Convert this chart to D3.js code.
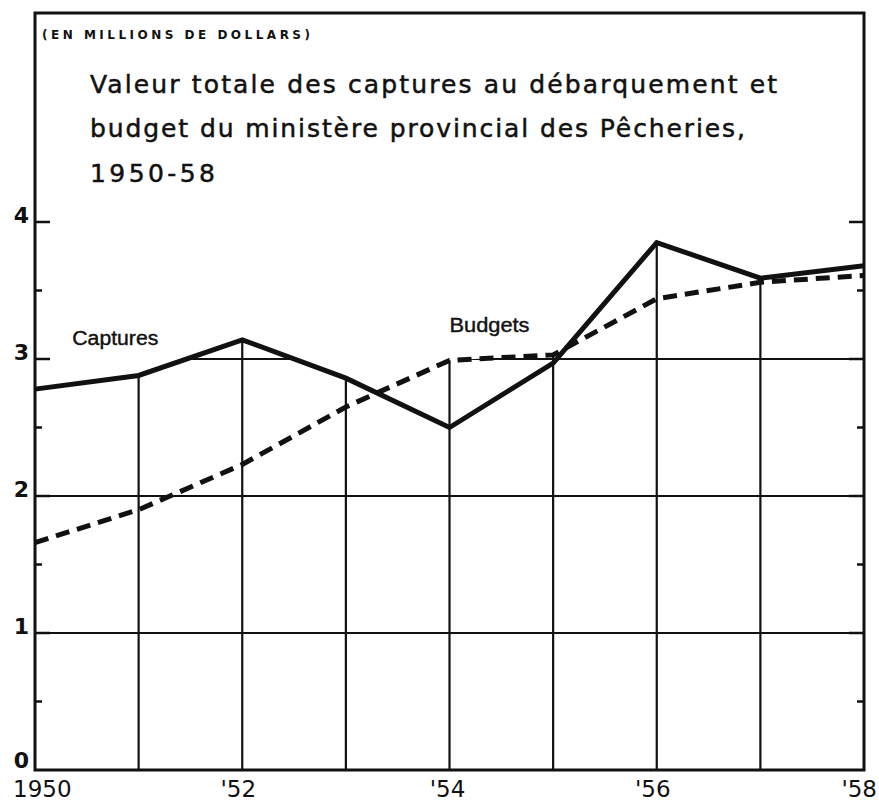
<!DOCTYPE html>
<html>
<head>
<meta charset="utf-8">
<script src="https://cdn.jsdelivr.net/npm/d3@7"></script>
<style>
  html, body { margin: 0; padding: 0; background: #fff; }
  svg { display: block; }
</style>
</head>
<body>
<svg id="chart" width="879" height="801"></svg>
<script>
// ---- data ----
const years = [1950, 1951, 1952, 1953, 1954, 1955, 1956, 1957, 1958];
const captures = [2.78, 2.88, 3.14, 2.86, 2.50, 2.97, 3.85, 3.59, 3.68];
const budgets  = [1.66, 1.90, 2.23, 2.65, 2.99, 3.03, 3.44, 3.56, 3.61];
const yTicks = [0, 1, 2, 3, 4];
const yTickLabels = ["0", "1", "2", "3", "4"];
const yMinorTicks = [0.5, 1.5, 2.5, 3.5];
const xTickYears = [1950, 1952, 1954, 1956, 1958];
const xTickLabels = ["1950", "'52", "'54", "'56", "'58"];
const titleLines = [
  "Valeur totale des captures au débarquement et",
  "budget du ministère provincial des Pêcheries,",
  "1950-58"
];
const unitLabel = "(EN MILLIONS DE DOLLARS)";
const seriesLabels = ["Captures", "Budgets"];

// ---- layout ----
const svg = d3.select("#chart");
const ink = "#111";
const x = d3.scaleLinear().domain([1950, 1958]).range([35, 864]);
const y = d3.scaleLinear().domain([0, 4]).range([770, 222]);
const frameTop = 13;

const capData = years.map((yr, i) => ({ yr, v: captures[i] }));
const budData = years.map((yr, i) => ({ yr, v: budgets[i] }));

// clip: union of the areas under the two curves
const area = d3.area().x(d => x(d.yr)).y0(y(0)).y1(d => y(d.v));
const clip = svg.append("defs").append("clipPath").attr("id", "under");
clip.append("path").attr("d", area(capData));
clip.append("path").attr("d", area(budData));

// grid lines (clipped below the curves)
const grid = svg.append("g").attr("clip-path", "url(#under)")
  .attr("stroke", ink).attr("stroke-width", 2.2);
grid.selectAll("line.v").data(years.slice(1, -1)).join("line")
  .attr("x1", d => x(d)).attr("x2", d => x(d))
  .attr("y1", y(0)).attr("y2", frameTop);
grid.selectAll("line.h").data(yTicks.slice(1)).join("line")
  .attr("x1", x(1950)).attr("x2", x(1958))
  .attr("y1", d => y(d)).attr("y2", d => y(d));

// ticks on both sides
const ticks = svg.append("g").attr("stroke", ink).attr("stroke-width", 2.5);
[[x(1950), 1], [x(1958), -1]].forEach(([x0, dir]) => {
  ticks.append("g").selectAll("line").data(yTicks.slice(1)).join("line")
    .attr("x1", x0).attr("x2", x0 + dir * 15)
    .attr("y1", d => y(d)).attr("y2", d => y(d));
  ticks.append("g").selectAll("line").data(yMinorTicks).join("line")
    .attr("x1", x0).attr("x2", x0 + dir * 7)
    .attr("y1", d => y(d)).attr("y2", d => y(d));
});

// frame
svg.append("rect")
  .attr("x", x(1950)).attr("y", frameTop)
  .attr("width", x(1958) - x(1950)).attr("height", y(0) - frameTop)
  .attr("fill", "none").attr("stroke", ink).attr("stroke-width", 3);

// lines
const line = d3.line().x(d => x(d.yr)).y(d => y(d.v));
svg.append("path").attr("d", line(budData))
  .attr("fill", "none").attr("stroke", ink).attr("stroke-width", 5)
  .attr("stroke-dasharray", "14,8");
svg.append("path").attr("d", line(capData))
  .attr("fill", "none").attr("stroke", ink).attr("stroke-width", 5)
  .attr("stroke-linejoin", "miter");

// y labels
svg.append("g").selectAll("text").data(yTicks).join("text")
  .attr("x", 29).attr("y", d => y(d) + (d === 0 ? -2 : 1))
  .attr("text-anchor", "end")
  .attr("font-family", "'DejaVu Sans', sans-serif")
  .attr("font-size", 22).attr("font-weight", "bold").attr("fill", ink)
  .text((d, i) => yTickLabels[i]);

// x labels
const xAnchors = ["start", "middle", "middle", "middle", "end"];
const xOffsets = [-22, -4, -2, -4, 13];
svg.append("g").selectAll("text").data(xTickYears).join("text")
  .attr("x", (d, i) => x(d) + xOffsets[i]).attr("y", 797)
  .attr("text-anchor", (d, i) => xAnchors[i])
  .attr("font-family", "'DejaVu Sans', sans-serif")
  .attr("font-size", 23).attr("fill", ink)
  .text((d, i) => xTickLabels[i]);

// unit label
svg.append("text").attr("x", 42).attr("y", 39)
  .attr("font-family", "'DejaVu Sans', sans-serif")
  .attr("font-size", 12).attr("font-weight", "bold").attr("fill", ink)
  .attr("textLength", 268).attr("lengthAdjust", "spacing")
  .text(unitLabel);

// title
const titleBase = [93, 137, 182];
const titleLen = [687, 655, 125];
svg.append("g").selectAll("text").data(titleLines).join("text")
  .attr("x", 90).attr("y", (d, i) => titleBase[i])
  .attr("font-family", "'DejaVu Sans', sans-serif")
  .attr("font-size", 25).attr("fill", ink)
  .attr("stroke", ink).attr("stroke-width", 0.5)
  .attr("textLength", (d, i) => titleLen[i]).attr("lengthAdjust", "spacing")
  .text(d => d);

// series labels
svg.append("text").attr("x", x(1950.36)).attr("y", y(3.10))
  .attr("font-family", "'Liberation Sans', Arial, sans-serif")
  .attr("font-size", 20).attr("fill", ink)
  .attr("stroke", ink).attr("stroke-width", 0.4)
  .attr("textLength", 86).attr("lengthAdjust", "spacingAndGlyphs")
  .text(seriesLabels[0]);
svg.append("text").attr("x", x(1954.0)).attr("y", y(3.20))
  .attr("font-family", "'Liberation Sans', Arial, sans-serif")
  .attr("font-size", 20).attr("fill", ink)
  .attr("stroke", ink).attr("stroke-width", 0.4)
  .attr("textLength", 80).attr("lengthAdjust", "spacingAndGlyphs")
  .text(seriesLabels[1]);
</script>
</body>
</html>
